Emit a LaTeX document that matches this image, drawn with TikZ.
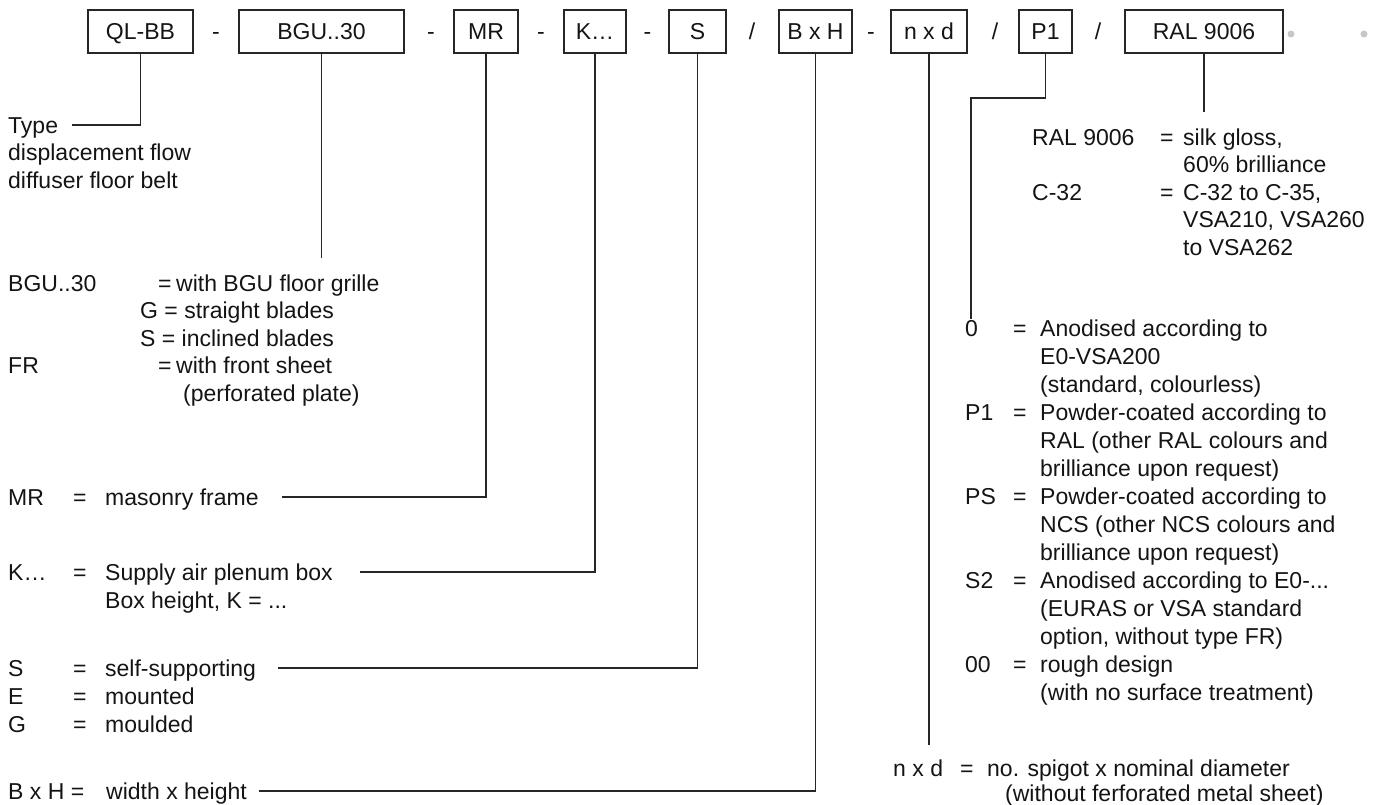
\documentclass[tikz,border=0pt]{standalone}
\usepackage{fontspec}
\setmainfont{Liberation Sans}
\begin{document}
\begin{tikzpicture}[x=1pt,y=-1pt,
  every node/.style={inner sep=0pt, font=\fontsize{23pt}{27pt}\selectfont, text=black!92},
  codebox/.style={draw=black!85, line width=1.2pt, minimum height=43pt, text height=16pt, text depth=0pt, anchor=center},
  sep/.style={anchor=center, text height=16pt, text depth=0pt},
  txt/.style={anchor=west, text height=16pt, text depth=0pt},
  conn/.style={draw=black!85, line width=1.2pt},
  dot/.style={circle, fill=black!22, minimum size=7pt}]
\useasboundingbox (0,0) rectangle (1379,804);
% code row
\node[codebox, minimum width=105pt] (qlbb) at (140.5,31.5) {QL-BB};
\node[sep] (s1) at (216,31.5) {-};
\node[codebox, minimum width=165pt] (bgu) at (321.5,31.5) {BGU..30};
\node[sep] (s2) at (431,31.5) {-};
\node[codebox, minimum width=64pt] (mr) at (486,31.5) {MR};
\node[sep] (s3) at (541,31.5) {-};
\node[codebox, minimum width=62pt] (k) at (595,31.5) {K…};
\node[sep] (s4) at (647.5,31.5) {-};
\node[codebox, minimum width=57pt] (s) at (697.5,31.5) {S};
\node[sep] (s5) at (752,31.5) {/};
\node[codebox, minimum width=73pt] (bxh) at (815.5,31.5) {B x H};
\node[sep] (s6) at (871,31.5) {-};
\node[codebox, minimum width=76pt] (nxd) at (929,31.5) {n x d};
\node[sep] (s7) at (995,31.5) {/};
\node[codebox, minimum width=53pt] (p1) at (1045.5,31.5) {P1};
\node[sep] (s8) at (1098,31.5) {/};
\node[codebox, minimum width=158pt] (ral) at (1204,31.5) {RAL 9006};
\node[dot] (d1) at (1291,34) {};
\node[dot] (d2) at (1364,34) {};
% connector end points
\coordinate (c-type) at (72,125);
\coordinate (c-bgu) at (321.5,258);
\coordinate (c-mr) at (282,497);
\coordinate (c-k) at (360,572);
\coordinate (c-s) at (278,668);
\coordinate (c-bxh) at (259,791);
\coordinate (c-nxd) at (929,745);
\coordinate (c-p1a) at (971,98);
\coordinate (c-p1) at (971,319);
\coordinate (c-ral) at (1204,112);
\draw[conn] (qlbb.south) |- (c-type);
\draw[conn] (bgu.south) -- (c-bgu);
\draw[conn] (mr.south) |- (c-mr);
\draw[conn] (k.south) |- (c-k);
\draw[conn] (s.south) |- (c-s);
\draw[conn] (bxh.south) |- (c-bxh);
\draw[conn] (nxd.south) -- (c-nxd);
\draw[conn] (p1.south) |- (c-p1a) -- (c-p1);
\draw[conn] (ral.south) -- (c-ral);
% left column
\node[txt] (t1) at (8,125) {Type};
\node[txt] (t2) at (8,152.5) {displacement flow};
\node[txt] (t3) at (8,180) {diffuser floor belt};
\node[txt] (b1) at (8,283) {BGU..30};
\node[txt] (b1e) at (158,283) {=};
\node[txt] (b1t) at (176,283) {with BGU floor grille};
\node[txt] (b2) at (140,310.5) {G = straight blades};
\node[txt] (b3) at (140,338) {S = inclined blades};
\node[txt] (f1) at (8,365.5) {FR};
\node[txt] (f1e) at (158,365.5) {=};
\node[txt] (f1t) at (176,365.5) {with front sheet};
\node[txt] (f2) at (183,393) {(perforated plate)};
\node[txt] (m1) at (8,497) {MR};
\node[txt] (m1e) at (73,497) {=};
\node[txt] (m1t) at (105,497) {masonry frame};
\node[txt] (k1) at (8,572) {K…};
\node[txt] (k1e) at (73,572) {=};
\node[txt] (k1t) at (105,572) {Supply air plenum box};
\node[txt] (k2) at (105,600) {Box height, K = ...};
\node[txt] (v1) at (8,668) {S};
\node[txt] (v1e) at (73,668) {=};
\node[txt] (v1t) at (105,668) {self-supporting};
\node[txt] (v2) at (8,696) {E};
\node[txt] (v2e) at (73,696) {=};
\node[txt] (v2t) at (105,696) {mounted};
\node[txt] (v3) at (8,724) {G};
\node[txt] (v3e) at (73,724) {=};
\node[txt] (v3t) at (105,724) {moulded};
\node[txt] (h1) at (8,791) {B x H =};
\node[txt] (h1t) at (106,791) {width x height};
% colour block
\node[txt] (r1) at (1032,137) {RAL 9006};
\node[txt] (r1e) at (1160,137) {=};
\node[txt] (r1t) at (1183,137) {silk gloss,};
\node[txt] (r2) at (1183,164.5) {60\% brilliance};
\node[txt] (r3) at (1032,192) {C-32};
\node[txt] (r3e) at (1160,192) {=};
\node[txt] (r3t) at (1183,192) {C-32 to C-35,};
\node[txt] (r4) at (1183,219.5) {VSA210, VSA260};
\node[txt] (r5) at (1183,247) {to VSA262};
% finish block
\node[txt] (p0) at (965,328) {0};
\node[txt] (p0e) at (1013,328) {=};
\node[txt] (p0t) at (1040,328) {Anodised according to};
\node[txt] (p0b) at (1040,356) {E0-VSA200};
\node[txt] (p0c) at (1040,384) {(standard, colourless)};
\node[txt] (pa) at (965,412) {P1};
\node[txt] (pae) at (1013,412) {=};
\node[txt] (pat) at (1040,412) {Powder-coated according to};
\node[txt] (pab) at (1040,440) {RAL (other RAL colours and};
\node[txt] (pac) at (1040,468) {brilliance upon request)};
\node[txt] (pb) at (965,496) {PS};
\node[txt] (pbe) at (1013,496) {=};
\node[txt] (pbt) at (1040,496) {Powder-coated according to};
\node[txt] (pbb) at (1040,524) {NCS (other NCS colours and};
\node[txt] (pbc) at (1040,552) {brilliance upon request)};
\node[txt] (pc) at (965,580) {S2};
\node[txt] (pce) at (1013,580) {=};
\node[txt] (pct) at (1040,580) {Anodised according to E0-...};
\node[txt] (pcb) at (1040,608) {(EURAS or VSA standard};
\node[txt] (pcc) at (1040,636) {option, without type FR)};
\node[txt] (pd) at (965,664) {00};
\node[txt] (pde) at (1013,664) {=};
\node[txt] (pdt) at (1040,664) {rough design};
\node[txt] (pdb) at (1040,692) {(with no surface treatment)};
% spigot
\node[txt] (n1) at (893,768) {n x d};
\node[txt] (n1e) at (960,768) {=};
\node[txt] (n1t) at (987,768) {no. spigot x nominal diameter};
\node[txt] (n2) at (1005,793) {(without ferforated metal sheet)};
\end{tikzpicture}
\end{document}
